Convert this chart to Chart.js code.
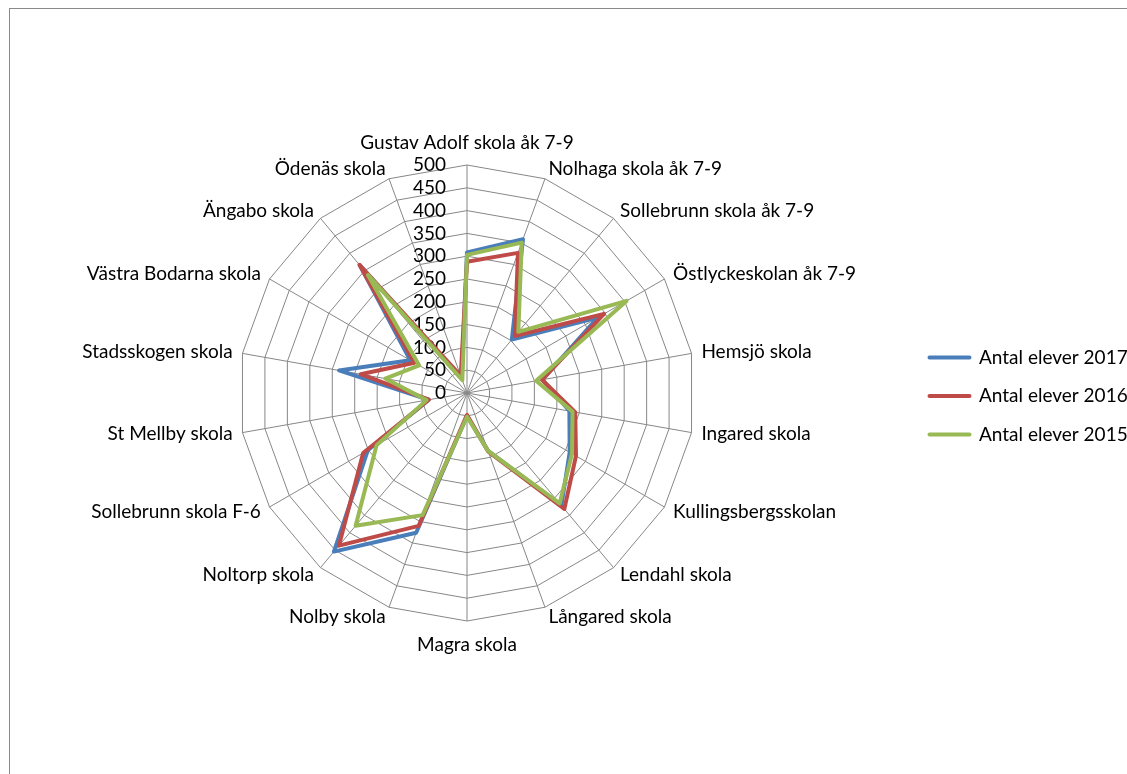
<!DOCTYPE html>
<html>
<head>
<meta charset="utf-8">
<title>Antal elever per skola</title>
<script src="https://cdn.jsdelivr.net/npm/chart.js@4.4.1/dist/chart.umd.min.js"></script>
<style>
  html, body { margin: 0; padding: 0; background: #fff; overflow: hidden; width: 1127px; height: 774px; }
  #frame { position: absolute; left: 9px; top: 8px; width: 1118px; height: 766px;
           border-left: 1px solid #8a8a8a; border-top: 1px solid #8a8a8a; }
  #chart { position: absolute; left: 0; top: 0; }
</style>
</head>
<body>
<div id="frame"></div>
<canvas id="chart" width="1160" height="774"></canvas>
<script>
const schools = [
  'Gustav Adolf skola åk 7-9', 'Nolhaga skola åk 7-9', 'Sollebrunn skola åk 7-9',
  'Östlyckeskolan åk 7-9', 'Hemsjö skola', 'Ingared skola', 'Kullingsbergsskolan',
  'Lendahl skola', 'Långared skola', 'Magra skola', 'Nolby skola', 'Noltorp skola',
  'Sollebrunn skola F-6', 'St Mellby skola', 'Stadsskogen skola', 'Västra Bodarna skola',
  'Ängabo skola', 'Ödenäs skola'
];
const elever2017 = [308, 359, 153, 331, 168, 228, 260, 322, 135, 50, 326, 454, 251, 85, 285, 144, 366, 35];
const elever2016 = [288, 327, 163, 347, 167, 241, 276, 332, 137, 48, 310, 437, 263, 85, 237, 133, 367, 40];
const elever2015 = [303, 351, 175, 404, 154, 235, 266, 316, 135, 52, 285, 380, 229, 90, 182, 121, 338, 30];
const tickValues = [0, 50, 100, 150, 200, 250, 300, 350, 400, 450, 500];

const FONT = '19px Lato';

// tick numbers left of the vertical axis, school names round the outer ring
const radarText = {
  id: 'radarText',
  beforeDatasetsDraw(chart) {
    const r = chart.scales.r;
    const ctx = chart.ctx;
    ctx.save();
    ctx.font = FONT;
    ctx.fillStyle = '#000';
    ctx.textAlign = 'right';
    ctx.textBaseline = 'middle';
    tickValues.forEach(v => {
      ctx.fillText(String(v), r.xCenter - 21, r.yCenter - r.getDistanceFromCenterForValue(v));
    });
    ctx.restore();
  },
  afterDraw(chart) {
    const r = chart.scales.r;
    const ctx = chart.ctx;
    ctx.save();
    ctx.font = FONT;
    ctx.fillStyle = '#000';
    ctx.textBaseline = 'middle';
    schools.forEach((name, i) => {
      const deg = Math.round(i * 360 / schools.length);
      let dist = r.drawingArea + 10;
      let align = deg < 180 ? 'left' : 'right';
      if (deg === 0) { dist = r.drawingArea + 22; align = 'center'; }
      if (deg === 180) { dist = r.drawingArea + 24; align = 'center'; }
      const p = r.getPointPosition(i, dist);
      ctx.textAlign = align;
      ctx.fillText(name, p.x, p.y);
    });
    ctx.restore();
  }
};

function series(label, data, color, order) {
  return {
    label, data, order,
    borderColor: color,
    backgroundColor: color,
    borderWidth: 4,
    borderJoinStyle: 'round',
    fill: false,
    pointRadius: 0,
    pointHoverRadius: 0
  };
}

new Chart(document.getElementById('chart'), {
  type: 'radar',
  data: {
    labels: schools,
    datasets: [
      series('Antal elever 2017', elever2017, '#4A7EBB', 3),
      series('Antal elever 2016', elever2016, '#BE4B48', 2),
      series('Antal elever 2015', elever2015, '#98B954', 1)
    ]
  },
  options: {
    responsive: false,
    animation: false,
    devicePixelRatio: 1,
    layout: { padding: { left: 24, right: 26, top: 165, bottom: 152 } },
    plugins: {
      tooltip: { enabled: false },
      legend: {
        position: 'right',
        maxWidth: 224,
        title: { display: true, text: '', padding: 0, font: { size: 4 } },
        labels: {
          font: { family: 'Lato', size: 19 },
          color: '#000',
          boxWidth: 40,
          boxHeight: 0,
          padding: 19.5,
          sort: (a, b) => a.datasetIndex - b.datasetIndex
        }
      }
    },
    scales: {
      r: {
        min: tickValues[0],
        max: tickValues[tickValues.length - 1],
        ticks: { display: false, stepSize: tickValues[1] - tickValues[0] },
        pointLabels: { display: false },
        grid: { color: '#878787', lineWidth: 1 },
        angleLines: { color: '#878787', lineWidth: 1 }
      }
    }
  },
  plugins: [radarText]
});
</script>
</body>
</html>
